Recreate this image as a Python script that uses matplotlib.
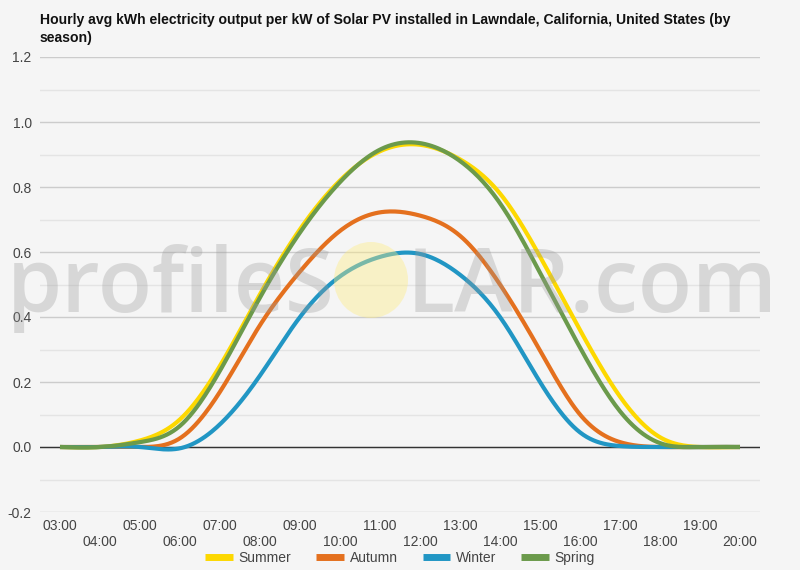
import matplotlib
matplotlib.use("Agg")
import matplotlib.pyplot as plt
from matplotlib.patches import Ellipse
import numpy as np

plt.rcParams["font.family"] = ["Liberation Sans", "DejaVu Sans"]

# data (kWh per kW, hourly average)
hours = ["03:00", "04:00", "05:00", "06:00", "07:00", "08:00", "09:00", "10:00", "11:00",
         "12:00", "13:00", "14:00", "15:00", "16:00", "17:00", "18:00", "19:00", "20:00"]
summer = [0, 0, 0.02, 0.085, 0.25, 0.47, 0.67, 0.82, 0.91, 0.93, 0.885, 0.78, 0.586, 0.36, 0.155, 0.03, 0, 0]
autumn = [0, 0, 0, 0.027, 0.17, 0.375, 0.54, 0.665, 0.722, 0.712, 0.65, 0.5, 0.297, 0.1, 0.015, 0, 0, 0]
winter = [0, 0, 0, -0.004, 0.07, 0.22, 0.40, 0.525, 0.585, 0.594, 0.53, 0.40, 0.2, 0.045, 0.003, 0, 0, 0]
spring = [0, 0, 0.015, 0.065, 0.235, 0.46, 0.66, 0.815, 0.915, 0.935, 0.88, 0.75, 0.536, 0.306, 0.11, 0.012, 0, 0]

series = [("Summer", summer, "#fdd800"),
          ("Autumn", autumn, "#e4701e"),
          ("Winter", winter, "#2196c4"),
          ("Spring", spring, "#6b9a4b")]


def smooth(vals, n=24):
    # natural cubic spline through the points (unit spacing)
    y = np.array(vals, dtype=float)
    k = len(y)
    A = np.zeros((k, k))
    b = np.zeros(k)
    A[0, 0] = A[-1, -1] = 1
    for i in range(1, k - 1):
        A[i, i - 1], A[i, i], A[i, i + 1] = 1, 4, 1
        b[i] = 6 * (y[i + 1] - 2 * y[i] + y[i - 1])
    M = np.linalg.solve(A, b)
    t = np.linspace(0, 1, n, endpoint=False)
    xs, ys = [], []
    for i in range(k - 1):
        s = (1 - t) * y[i] + t * y[i + 1] \
            + ((1 - t) ** 3 - (1 - t)) * M[i] / 6 + (t ** 3 - t) * M[i + 1] / 6
        xs.append(i + t)
        ys.append(s)
    xs.append([k - 1])
    ys.append([y[-1]])
    return np.concatenate(xs), np.concatenate(ys)


bg = "#f5f5f5"
fig = plt.figure(figsize=(8, 5.7), dpi=100, facecolor=bg)
ax = fig.add_axes([40 / 800, 1 - 512 / 570, 720 / 800, 455 / 570], facecolor=bg)

for name, vals, col in series:
    xs, ys = smooth(vals)
    ax.plot(xs, ys, color=col, lw=3, label=name, solid_capstyle="butt", zorder=3)

ax.set_xlim(-0.5, len(hours) - 0.5)
ax.set_ylim(-0.2, 1.2)
ax.set_yticks(np.arange(-0.2, 1.21, 0.2))
ax.set_yticklabels(["%.1f" % v for v in np.arange(-0.2, 1.21, 0.2)])
ax.set_yticks(np.arange(-0.1, 1.2, 0.2), minor=True)
ax.grid(axis="y", which="major", color="#cccccc", lw=1)
ax.grid(axis="y", which="minor", color="#e4e4e4", lw=1)
ax.axhline(0, color="#333333", lw=1, zorder=2)
ax.set_axisbelow(True)

ax.set_xticks(range(len(hours)))
ax.set_xticklabels([h if i % 2 == 0 else "\n" + h for i, h in enumerate(hours)])
for lbl in ax.get_xticklabels():
    lbl.set_linespacing(1.2)

ax.tick_params(axis="both", which="both", length=0, labelsize=10, colors="#444444")
ax.tick_params(axis="y", pad=6)
ax.tick_params(axis="x", pad=5)
for s in ax.spines.values():
    s.set_visible(False)

# watermark on top, semi transparent
wm = dict(va="baseline", fontsize=64, family=["Open Sans", "DejaVu Sans"], fontweight="semibold",
          color="#9a9a9a", alpha=0.32, zorder=10)
fig.text(335 / 800, 1 - 312 / 570, "profileS", ha="right", **wm)
fig.text(407 / 800, 1 - 312 / 570, "LAR.com", ha="left", **wm)
sun = Ellipse((371 / 800, 1 - 280 / 570), 74 / 800, 76 / 570, transform=fig.transFigure,
              facecolor="#ffec80", edgecolor="none", alpha=0.4, zorder=10)
fig.patches.append(sun)

fig.text(40 / 800, 1 - 13 / 570,
         "Hourly avg kWh electricity output per kW of Solar PV installed in Lawndale, California, United States (by\nseason)",
         ha="left", va="top", fontsize=10.1, fontweight="bold", color="#111111", linespacing=1.35)

leg = fig.legend(loc="center", bbox_to_anchor=(0.5, 1 - 558 / 570), ncol=4, frameon=False,
                 fontsize=10, handlelength=2.0, handletextpad=0.4, columnspacing=1.8)
for h in leg.get_lines():
    h.set_linewidth(5)
for t in leg.get_texts():
    t.set_color("#444444")

fig.savefig("out.png", dpi=100, facecolor=bg)
